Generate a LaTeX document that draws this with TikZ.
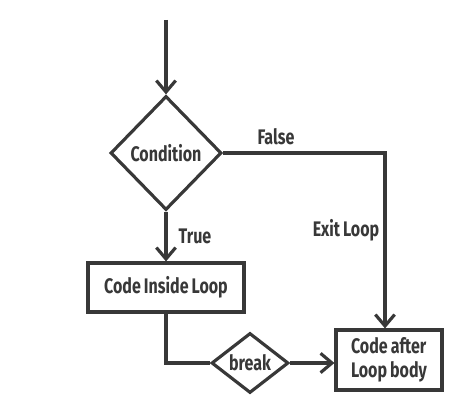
\documentclass[tikz,border=0pt]{standalone}
\usepackage{fontspec}
\setmainfont{Fira Sans}
\newfontfamily\flowfont{Fira Sans}[FakeStretch=0.76,WordSpace=0.8]
\usepackage{xcolor}
\usepackage{tikz}
\usetikzlibrary{shapes.geometric,positioning,arrows.meta}
\definecolor{flowgray}{HTML}{383838}

\begin{document}
\begin{tikzpicture}[
  line width=1.8pt, draw=flowgray,
  flow/.style={-{Straight Barb[length=6.5pt,width=11pt,line width=1.8pt]}, flowgray},
  decision/.style={draw=flowgray, diamond, inner sep=0pt, font=\flowfont\bfseries\fontsize{12}{13.5}\selectfont, text=flowgray},
  block/.style={draw=flowgray, rectangle, font=\flowfont\bfseries\fontsize{12}{13.5}\selectfont, text=flowgray, align=left},
  tag/.style={font=\flowfont\bfseries\fontsize{12}{13.5}\selectfont, text=flowgray},
]
  \useasboundingbox (0,0) rectangle (9,-8);

  % Loop entry
  \coordinate (start) at (3.32,-0.4);
  \node[decision, minimum width=2.22cm, minimum height=2.28cm] (cond) at (3.32,-3.06) {Condition};

  % Loop body and exit
  \node[block, minimum width=3.12cm, minimum height=0.98cm] (body) at (3.32,-5.75) {Code Inside Loop};
  \node[decision, minimum width=1.54cm, minimum height=1.2cm] (brk) at (5.0,-7.26) {break};
  \node[block, minimum width=2.12cm, minimum height=1.2cm] (after) at (7.78,-7.2) {Code after\\Loop body};
  \coordinate (fcorner) at (7.7,-3.0);

  % Connections
  \draw[flow] (start) -- (cond.north);
  \draw[flow] (cond.south) -- (body.north);
  \draw[flow] (cond.east) -- (cond.east -| fcorner) -- (fcorner |- after.north);
  \draw (body.south) |- (brk.west);
  \draw[flow] (brk.east) -- (brk.east -| after.west);

  % Labels
  \node[tag] (lfalse) at (5.52,-2.74) {False};
  \node[tag] (ltrue) at (3.9,-4.72) {True};
  \node[tag] (lexit) at (6.92,-4.6) {Exit Loop};

\end{tikzpicture}
\end{document}
